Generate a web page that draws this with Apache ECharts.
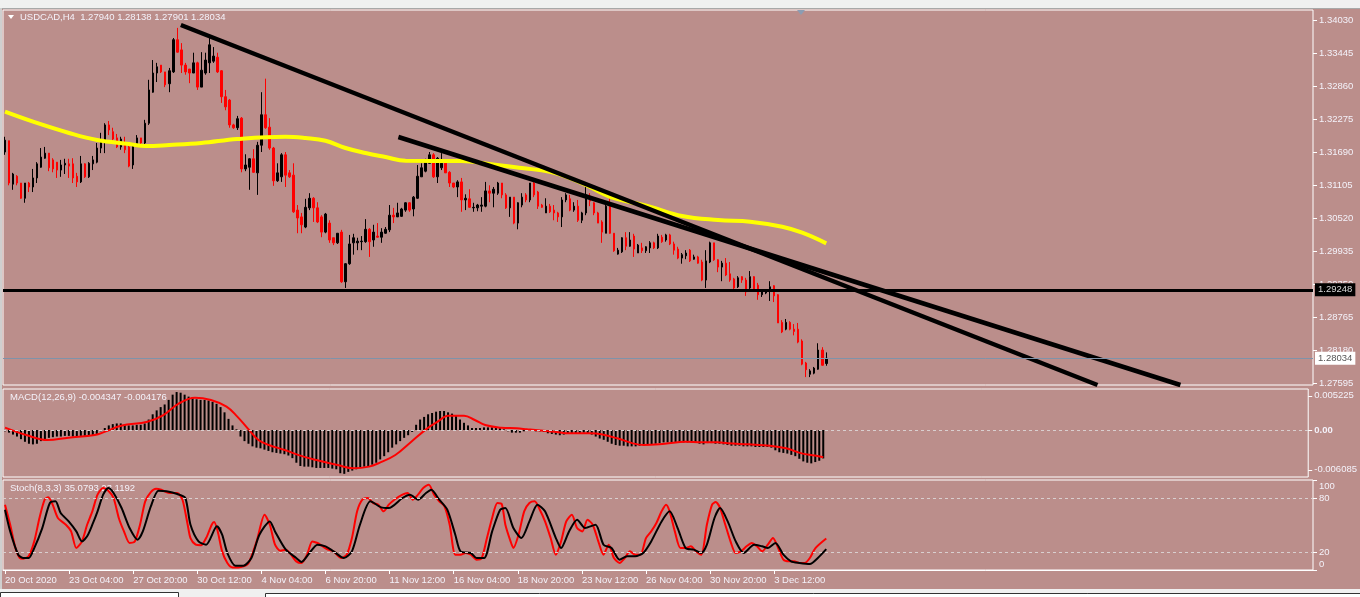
<!DOCTYPE html>
<html><head><meta charset="utf-8">
<script src="https://cdn.jsdelivr.net/npm/echarts@6/dist/echarts.min.js"></script>
<style>html,body{margin:0;padding:0;background:#bb8e8b;}#c{width:1360px;height:597px;}</style>
</head><body><div id="c"></div>
<script>
// ---------------- DATA ----------------
const symbolName = 'USDCAD,H4';
const lastOHLC = [1.27940, 1.28138, 1.27901, 1.28034];
const timeLabels = ['20 Oct 2020','23 Oct 04:00','27 Oct 20:00','30 Oct 12:00','4 Nov 04:00','6 Nov 20:00','11 Nov 12:00','16 Nov 04:00','18 Nov 20:00','23 Nov 12:00','26 Nov 04:00','30 Nov 20:00','3 Dec 12:00'];
const barsPerLabel = 16;
const slotCount = 327;
// candles: [open, close, low, high]
const candleOCLH = [
[1.3169,1.3190,1.3164,1.3196],[1.3189,1.3114,1.3110,1.3189],[1.3112,1.3130,1.3102,1.3132],[1.3126,1.3114,1.3110,1.3128],
[1.3114,1.3087,1.3086,1.3114],[1.3087,1.3114,1.3079,1.3114],[1.3114,1.3107,1.3098,1.3116],[1.3107,1.3123,1.3098,1.3139],
[1.3123,1.3148,1.3114,1.3151],[1.3142,1.3160,1.3141,1.3176],[1.3158,1.3167,1.3157,1.3178],[1.3167,1.3141,1.3135,1.3167],
[1.3155,1.3139,1.3133,1.3158],[1.3151,1.3137,1.3123,1.3151],[1.3137,1.3146,1.3125,1.3155],[1.3146,1.3149,1.3130,1.3157],
[1.3148,1.3144,1.3123,1.3157],[1.3148,1.3123,1.3114,1.3158],[1.3126,1.3116,1.3107,1.3132],[1.3116,1.3148,1.3114,1.3162],
[1.3148,1.3125,1.3123,1.3149],[1.3125,1.3149,1.3123,1.3151],[1.3148,1.3155,1.3137,1.3162],[1.3151,1.3176,1.3149,1.3185],
[1.3176,1.3189,1.3167,1.3203],[1.3187,1.3217,1.3167,1.3220],[1.3217,1.3208,1.3199,1.3224],[1.3205,1.3192,1.3187,1.3212],
[1.3194,1.3178,1.3176,1.3201],[1.3178,1.3192,1.3173,1.3196],[1.3185,1.3173,1.3167,1.3196],[1.3178,1.3144,1.3142,1.3185],
[1.3146,1.3183,1.3139,1.3185],[1.3181,1.3194,1.3178,1.3199],[1.3194,1.3185,1.3181,1.3194],[1.3185,1.3220,1.3178,1.3226],
[1.3220,1.3279,1.3217,1.3297],[1.3275,1.3309,1.3274,1.3332],[1.3309,1.3320,1.3293,1.3327],[1.3323,1.3311,1.3309,1.3323],
[1.3311,1.3288,1.3284,1.3311],[1.3290,1.3313,1.3275,1.3318],[1.3311,1.3368,1.3309,1.3371],[1.3368,1.3346,1.3345,1.3389],
[1.3350,1.3323,1.3309,1.3362],[1.3323,1.3311,1.3306,1.3327],[1.3316,1.3309,1.3291,1.3316],[1.3309,1.3327,1.3309,1.3345],
[1.3327,1.3284,1.3279,1.3329],[1.3284,1.3314,1.3284,1.3346],[1.3309,1.3332,1.3306,1.3345],[1.3327,1.3359,1.3309,1.3371],
[1.3330,1.3339,1.3327,1.3355],[1.3337,1.3311,1.3309,1.3345],[1.3313,1.3267,1.3256,1.3314],[1.3267,1.3249,1.3243,1.3279],
[1.3261,1.3217,1.3212,1.3263],[1.3217,1.3212,1.3210,1.3219],[1.3212,1.3228,1.3208,1.3233],[1.3229,1.3139,1.3133,1.3231],
[1.3139,1.3146,1.3135,1.3165],[1.3142,1.3157,1.3102,1.3158],[1.3157,1.3133,1.3132,1.3174],[1.3132,1.3181,1.3093,1.3187],
[1.3181,1.3235,1.3169,1.3275],[1.3235,1.3212,1.3210,1.3299],[1.3213,1.3176,1.3173,1.3229],[1.3176,1.3118,1.3109,1.3178],
[1.3118,1.3132,1.3116,1.3149],[1.3125,1.3164,1.3116,1.3167],[1.3164,1.3128,1.3107,1.3169],[1.3132,1.3125,1.3123,1.3137],
[1.3128,1.3063,1.3061,1.3149],[1.3066,1.3052,1.3025,1.3075],[1.3054,1.3040,1.3025,1.3061],[1.3036,1.3071,1.3034,1.3086],
[1.3070,1.3087,1.3066,1.3096],[1.3087,1.3070,1.3045,1.3089],[1.3070,1.3045,1.3043,1.3080],[1.3054,1.3027,1.3018,1.3057],
[1.3027,1.3059,1.3025,1.3061],[1.3043,1.3013,1.3008,1.3048],[1.3017,1.3008,1.3004,1.3017],[1.3008,1.3025,1.3006,1.3025],
[1.3027,1.2939,1.2937,1.3031],[1.2939,1.2971,1.2928,1.2972],[1.2971,1.3006,1.2969,1.3022],[1.3008,1.3017,1.2987,1.3024],
[1.3008,1.3011,1.2995,1.3017],[1.3010,1.3011,1.2995,1.3020],[1.3010,1.3032,1.3008,1.3050],[1.3032,1.3010,1.2983,1.3034],
[1.3013,1.3027,1.3001,1.3040],[1.3020,1.3018,1.3017,1.3043],[1.3018,1.3027,1.3008,1.3034],[1.3025,1.3032,1.3024,1.3036],
[1.3031,1.3057,1.3027,1.3075],[1.3057,1.3054,1.3043,1.3070],[1.3054,1.3061,1.3054,1.3079],[1.3055,1.3068,1.3054,1.3070],
[1.3066,1.3079,1.3063,1.3080],[1.3079,1.3066,1.3063,1.3080],[1.3068,1.3089,1.3055,1.3091],[1.3087,1.3126,1.3086,1.3146],
[1.3125,1.3141,1.3125,1.3149],[1.3135,1.3155,1.3133,1.3157],[1.3149,1.3164,1.3149,1.3169],[1.3164,1.3125,1.3123,1.3167],
[1.3125,1.3158,1.3114,1.3160],[1.3141,1.3149,1.3137,1.3167],[1.3149,1.3132,1.3132,1.3149],[1.3133,1.3114,1.3107,1.3135],
[1.3114,1.3107,1.3105,1.3114],[1.3107,1.3116,1.3089,1.3119],[1.3116,1.3084,1.3063,1.3123],[1.3084,1.3087,1.3066,1.3094],
[1.3086,1.3071,1.3070,1.3103],[1.3070,1.3071,1.3063,1.3079],[1.3070,1.3075,1.3064,1.3077],[1.3073,1.3075,1.3063,1.3089],
[1.3073,1.3100,1.3071,1.3116],[1.3100,1.3096,1.3080,1.3110],[1.3096,1.3103,1.3071,1.3107],[1.3096,1.3114,1.3093,1.3116],
[1.3114,1.3093,1.3087,1.3114],[1.3093,1.3070,1.3068,1.3096],[1.3070,1.3089,1.3054,1.3089],[1.3089,1.3043,1.3041,1.3089],
[1.3043,1.3079,1.3032,1.3080],[1.3075,1.3089,1.3071,1.3096],[1.3093,1.3084,1.3080,1.3096],[1.3084,1.3114,1.3080,1.3114],
[1.3114,1.3093,1.3089,1.3123],[1.3098,1.3073,1.3068,1.3100],[1.3075,1.3071,1.3070,1.3077],[1.3061,1.3073,1.3061,1.3087],
[1.3073,1.3063,1.3061,1.3077],[1.3066,1.3061,1.3048,1.3075],[1.3061,1.3054,1.3045,1.3063],[1.3054,1.3084,1.3036,1.3089],
[1.3084,1.3093,1.3080,1.3096],[1.3086,1.3066,1.3064,1.3093],[1.3066,1.3073,1.3063,1.3080],[1.3073,1.3048,1.3045,1.3084],
[1.3048,1.3061,1.3043,1.3063],[1.3061,1.3093,1.3057,1.3114],[1.3091,1.3082,1.3073,1.3096],[1.3079,1.3061,1.3057,1.3080],
[1.3061,1.3043,1.3043,1.3063],[1.3045,1.3027,1.3008,1.3048],[1.3025,1.3073,1.3025,1.3075],[1.3073,1.3025,1.3024,1.3089],
[1.3025,1.2994,1.2992,1.3025],[1.2988,1.2995,1.2987,1.2999],[1.2992,1.3017,1.2990,1.3018],[1.3017,1.3002,1.2995,1.3027],
[1.3002,1.3013,1.3001,1.3027],[1.3020,1.2997,1.2983,1.3024],[1.2990,1.3004,1.2990,1.3006],[1.2999,1.2994,1.2990,1.3008],
[1.2994,1.3001,1.2990,1.3002],[1.2999,1.3008,1.2990,1.3011],[1.3008,1.2999,1.2997,1.3010],[1.2999,1.3020,1.2997,1.3024],
[1.3018,1.3010,1.3008,1.3022],[1.3013,1.3022,1.3010,1.3024],[1.3022,1.3006,1.3004,1.3024],[1.3006,1.2995,1.2987,1.3010],
[1.2997,1.2981,1.2979,1.3001],[1.2981,1.2987,1.2971,1.2990],[1.2985,1.2990,1.2979,1.2995],[1.2995,1.2976,1.2974,1.2997],
[1.2979,1.2983,1.2978,1.2987],[1.2983,1.2972,1.2971,1.2985],[1.2974,1.2942,1.2940,1.2978],[1.2942,1.2976,1.2928,1.2995],
[1.2974,1.3008,1.2972,1.3010],[1.3008,1.2978,1.2976,1.3008],[1.2978,1.2965,1.2956,1.2979],[1.2965,1.2972,1.2940,1.2976],
[1.2972,1.2951,1.2949,1.2981],[1.2953,1.2942,1.2939,1.2974],[1.2944,1.2928,1.2926,1.2946],[1.2930,1.2946,1.2928,1.2949],
[1.2948,1.2942,1.2937,1.2949],[1.2942,1.2921,1.2914,1.2946],[1.2928,1.2948,1.2924,1.2958],[1.2948,1.2924,1.2921,1.2949],
[1.2933,1.2916,1.2907,1.2937],[1.2916,1.2921,1.2912,1.2923],[1.2919,1.2921,1.2917,1.2926],[1.2923,1.2930,1.2905,1.2940],
[1.2932,1.2914,1.2903,1.2933],[1.2916,1.2866,1.2866,1.2917],[1.2867,1.2850,1.2848,1.2871],[1.2855,1.2867,1.2853,1.2873],
[1.2867,1.2855,1.2853,1.2869],[1.2855,1.2851,1.2844,1.2864],[1.2855,1.2832,1.2830,1.2866],[1.2834,1.2793,1.2791,1.2837],
[1.2795,1.2783,1.2770,1.2797],[1.2775,1.2781,1.2770,1.2784],[1.2777,1.2786,1.2775,1.2788],[1.2784,1.2818,1.2783,1.2830],
[1.2818,1.2791,1.2790,1.2823],[1.27940,1.28034,1.27901,1.28138]
];
// 200 period moving average, read as [bar, price]
const maLine = [[0,1.32404],[7,1.32227],[16,1.32027],[23,1.31902],[31,1.31831],[35,1.31796],[41,1.31814],[49,1.31849],[58,1.3192],[70,1.31961],[75,1.31938],[80,1.3189],[85,1.31761],[90,1.31672],[95,1.31601],[100,1.31535],[114,1.3153],[121,1.31477],[129,1.31406],[136,1.3134],[141,1.31229],[146,1.31069],[151,1.30897],[161,1.3072],[169,1.30555],[178,1.30484],[186,1.30454],[194,1.30365],[199,1.30259],[205,1.30071]];
const trendA = [[43.9,1.33941],[272.7,1.27560]];
const trendB = [[98.2,1.31956],[293.4,1.27560]];
const levelLine = 1.29248;
const bidLine = 1.28034;
const priceTicks = [1.34030,1.33445,1.32860,1.32275,1.31690,1.31105,1.30520,1.29935,1.29350,1.28765,1.28180,1.27595];
const priceRange = [1.27560, 1.34207];

const macdHist = [
-0.0002,-0.0004,-0.0007,-0.0010,-0.0014,-0.0018,-0.0021,-0.0022,-0.0021,-0.0017,-0.0014,-0.0012,-0.0011,-0.0010,-0.0010,-0.0009,
-0.0009,-0.0010,-0.0010,-0.0009,-0.0009,-0.0008,-0.0008,-0.0006,-0.0002,0.0003,0.0007,0.0009,0.0010,0.0010,0.0009,0.0007,
0.0007,0.0008,0.0008,0.0010,0.0016,0.0024,0.0030,0.0035,0.0039,0.0046,0.0054,0.0058,0.0057,0.0054,0.0051,0.0050,
0.0047,0.0046,0.0046,0.0045,0.0043,0.0040,0.0035,0.0027,0.0017,0.0007,0.0001,-0.0010,-0.0017,-0.0021,-0.0025,-0.0027,
-0.0028,-0.0030,-0.0032,-0.0034,-0.0035,-0.0036,-0.0037,-0.0039,-0.0043,-0.0050,-0.0055,-0.0056,-0.0056,-0.0057,-0.0058,-0.0058,
-0.0058,-0.0058,-0.0059,-0.0060,-0.0066,-0.0067,-0.0064,-0.0062,-0.0060,-0.0058,-0.0056,-0.0055,-0.0053,-0.0050,-0.0045,-0.0040,
-0.0034,-0.0027,-0.0022,-0.0017,-0.0012,-0.0008,-0.0003,0.0008,0.0016,0.0020,0.0024,0.0026,0.0028,0.0029,0.0029,0.0027,
0.0025,0.0022,0.0016,0.0011,0.0007,0.0003,0.0003,0.0003,0.0004,0.0004,0.0004,0.0004,0.0003,0.0001,-0.0002,-0.0004,
-0.0004,-0.0004,-0.0002,0.0000,-0.0001,-0.0002,-0.0002,-0.0003,-0.0005,-0.0006,-0.0007,-0.0008,-0.0007,-0.0006,-0.0006,-0.0006,
-0.0005,-0.0004,-0.0005,-0.0007,-0.0010,-0.0013,-0.0015,-0.0018,-0.0021,-0.0023,-0.0024,-0.0024,-0.0025,-0.0025,-0.0025,-0.0024,
-0.0023,-0.0023,-0.0022,-0.0021,-0.0020,-0.0019,-0.0019,-0.0019,-0.0019,-0.0019,-0.0019,-0.0019,-0.0019,-0.0019,-0.0021,-0.0022,
-0.0020,-0.0020,-0.0021,-0.0021,-0.0022,-0.0023,-0.0024,-0.0024,-0.0024,-0.0025,-0.0025,-0.0025,-0.0026,-0.0026,-0.0026,-0.0026,
-0.0027,-0.0031,-0.0034,-0.0035,-0.0036,-0.0038,-0.0040,-0.0044,-0.0048,-0.0050,-0.0051,-0.0049,-0.0047,-0.004347
];
const macdSignal = [[0,0.00036],[5.3,-0.00076],[10.6,-0.00153],[15.9,-0.00117],[22.5,-0.00076],[25.1,-0.00025],[29.1,0.00066],[35.7,0.00127],[39.7,0.00229],[43.6,0.00407],[47.6,0.00494],[51.6,0.00458],[55.5,0.00357],[58.2,0.00204],[60.8,0.00025],[63.5,-0.00153],[66.1,-0.00229],[70.1,-0.00306],[74,-0.00392],[78,-0.00458],[83.3,-0.00535],[87.3,-0.00586],[91.2,-0.0056],[93.9,-0.00499],[97.8,-0.00382],[101.8,-0.00178],[105.8,0.00025],[108.4,0.00127],[111,0.00219],[115,0.00219],[117.7,0.00153],[120.3,0.00076],[124.3,0.00036],[128.2,0.00025],[130.9,0.0001],[137.5,-0.00025],[141.5,-0.00051],[146.7,-0.00051],[149.4,-0.00066],[153.4,-0.00127],[157.3,-0.00204],[160,-0.00229],[165.3,-0.00209],[170.5,-0.00178],[174.5,-0.00188],[178.5,-0.00188],[181.1,-0.00204],[186.4,-0.00219],[191.7,-0.0024],[195.7,-0.0028],[199.6,-0.00357],[202.9,-0.0039],[205,-0.004176]];
const macdTicks = [0.005225, 0, -0.006085];
const macdRange = [-0.007182, 0.006265];

const stochMain = [[0,72.6],[1.3,50.3],[2.6,24.4],[3.7,13.3],[4.6,12.6],[5.9,15.2],[7.3,31.8],[8.6,57.8],[9.9,78.1],[10.8,80.7],[11.9,72.6],[13.2,57.8],[15.2,50.3],[16.5,42.9],[17.8,24.4],[19.2,31.8],[20.5,50.3],[21.8,65.2],[23.1,83.7],[24.5,91.1],[25.8,88.1],[27.1,80],[28.4,57.8],[29.7,42.9],[31.1,30],[32.4,31.8],[33.7,50.3],[35,76.3],[36.4,86.6],[37.7,90.3],[39,89.2],[41,85.5],[43,85.5],[44.3,78.1],[45.6,50.3],[46.3,35.5],[47.6,28.1],[48.9,27.4],[50.2,35.5],[51.6,50.3],[52.2,53.3],[53.1,42.9],[54.2,20.7],[55.5,7.8],[56.8,2.9],[58.2,2.9],[59.5,4],[60.8,7.8],[62.8,31.8],[64.8,61.5],[66.1,50.3],[67.4,28.1],[68.7,21.5],[70.1,22.6],[71.4,17],[72.7,9.6],[74,7.8],[75.4,17],[76.7,31.8],[78,30],[79.3,26.3],[80.6,22.6],[82,20.7],[83.9,13.3],[85.3,17],[86.6,35.5],[87.9,65.2],[89.2,78.1],[90.6,80],[91.9,74.4],[93.2,72.6],[94.5,65.2],[95.8,72.6],[97.2,78.1],[99.2,83.7],[100.5,85.5],[101.8,78.1],[103.1,83.7],[104.4,91.1],[105.8,94.8],[107.1,83.7],[108.4,76.3],[109.7,70.7],[111,50.3],[112.4,17],[113.7,17],[115,18.9],[116.3,17],[117.7,11.5],[119,13.3],[120.3,35.5],[121.6,57.8],[122.9,74.4],[124,73.3],[124.9,50.3],[126.2,31.8],[126.9,24.4],[128.2,39.2],[129.6,65.2],[130.9,74.4],[132.2,76.3],[133.5,67],[134.8,54],[136.2,35.5],[137.5,17],[138.8,31.8],[140.1,54],[141.5,61.5],[142.8,46.6],[144.1,42.9],[145.4,55.9],[146.7,50.3],[148.1,31.8],[149.4,17],[150.7,28.1],[152,13.3],[153.4,7.8],[154.7,13.3],[156,20.7],[157.3,17],[158.6,17],[160,35.5],[161.3,42.9],[162.6,52.2],[163.9,65.2],[165,72.6],[165.9,65.2],[167.2,42.9],[168.6,24.4],[169.9,24.4],[171.2,26.3],[172.5,20.7],[173.8,17],[175.2,50.3],[176.5,72.6],[177.4,75.5],[178.5,68.9],[179.8,50.3],[181.1,31.8],[182.4,18.9],[183.7,20.7],[185.1,26.3],[186.4,30],[187.7,26.3],[189,20.7],[190.4,28.1],[191.7,35.5],[193,24.4],[194.3,11.5],[195.7,9.6],[197,9.6],[198.3,7.8],[199.6,7.8],[200.9,13.3],[202.3,24.4],[205,35.0793]];
const stochSignal = [[0,67],[1.3,42.9],[3.3,17],[4.6,13.3],[5.9,13.3],[7.3,24.4],[9.3,46.6],[11.2,74.4],[12.6,76.3],[13.9,63.3],[15.9,54],[17.8,42.9],[19.2,31.8],[20.5,37.4],[21.8,50.3],[23.1,65.2],[24.5,83.7],[25.8,91.1],[27.1,85.5],[29.1,68.9],[31.1,46.6],[33.1,33.7],[34.4,42.9],[36.4,70.7],[38.3,88.1],[40.3,87.4],[43,84.4],[45,80],[46.3,50.3],[48.3,31.8],[50.2,28.1],[52.9,48.5],[54.2,39.2],[55.5,18.9],[57.5,4.8],[59.5,4.8],[61.5,13.3],[63.5,39.2],[66.1,54],[67.4,42.9],[70.1,22.6],[72.7,13.3],[74,8.9],[76,18.9],[78,28.1],[80,26.3],[82,20.7],[84.6,13.3],[86.6,20.7],[88.6,50.3],[91.2,76.3],[93.9,69.6],[95.8,68.9],[99.2,80],[101.1,83.7],[103.1,78.1],[105.1,85.5],[106.4,89.2],[108.4,78.1],[110.4,67],[112.4,39.2],[113.7,20.7],[116.3,18.9],[117.7,13.3],[119.6,13.3],[121.6,42.9],[123.6,67],[124.9,68.9],[126.9,46.6],[128.9,35.5],[130.9,54],[132.9,72.6],[134.8,65.2],[137.5,35.5],[138.8,24.4],[140.8,42.9],[142.8,55.9],[144.8,46.6],[147.4,50.3],[149.4,28.1],[151.4,24.4],[153.4,11.5],[155.3,15.2],[157.3,15.2],[159.3,18.9],[161.3,31.8],[163.9,54],[165.9,65.2],[167.9,46.6],[169.9,24.4],[171.9,22.6],[173.8,18.9],[175.2,28.1],[177.1,57.8],[178.5,68.9],[180.4,54],[182.4,31.8],[184.4,18.9],[187,28.1],[189,26.3],[190.4,24.4],[192.3,30],[194.3,17],[196.2,9.6],[198.3,7.8],[200.9,6.6],[202.9,13.3],[205,23.1192]];
const stochTicks = [100, 80, 20, 0];
const stochLevels = [80, 20];

// ---------------- CHART ----------------
const FONT = "'Liberation Sans', Arial, sans-serif";
const FS = 9.5;
const TXT = '#f4f2fa';
const cats = Array.from({length: slotCount}, (_, i) => 'b' + i);
const isLabelSlot = (i) => i % barsPerLabel === 0 && (i / barsPerLabel) < timeLabels.length;
const chart = echarts.init(document.getElementById('c'), null, {renderer: 'canvas'});
const gridBase = {left: 3, right: 47, show: true, borderColor: '#ffffff', borderWidth: 1, backgroundColor: 'transparent'};
const lbl = {color: TXT, fontFamily: FONT, fontSize: FS};
const lastMacd = macdHist[macdHist.length - 1];
const lastSig = macdSignal[macdSignal.length - 1][1];
const lastK = stochMain[stochMain.length - 1][1];
const lastD = stochSignal[stochSignal.length - 1][1];
const yLine = {show: false, onZero: false};
const yTick = (vals) => ({show: true, customValues: vals, length: 4, inside: false, lineStyle: {color: '#ffffff'}});

const option = {
  animation: false,
  backgroundColor: '#bb8e8b',
  grid: [
    Object.assign({top: 10, height: 375}, gridBase),
    Object.assign({top: 389, height: 88}, gridBase),
    Object.assign({top: 480, height: 90}, gridBase)
  ],
  xAxis: [
    {type: 'category', gridIndex: 0, data: cats, show: false},
    {type: 'category', gridIndex: 1, data: cats, show: false},
    {type: 'category', gridIndex: 2, data: cats,
      axisLine: {show: true, onZero: false, lineStyle: {color: '#ffffff'}},
      axisTick: {show: true, alignWithLabel: true, interval: (i) => isLabelSlot(i), length: 4, lineStyle: {color: '#ffffff'}},
      axisLabel: Object.assign({interval: (i) => isLabelSlot(i), formatter: (v, i) => isLabelSlot(i) ? timeLabels[i / barsPerLabel] : '', align: 'left', margin: 5}, lbl),
      splitLine: {show: false}},
    {type: 'value', gridIndex: 0, min: -0.5, max: slotCount - 0.5, show: false},
    {type: 'value', gridIndex: 1, min: -0.5, max: slotCount - 0.5, show: false},
    {type: 'value', gridIndex: 2, min: -0.5, max: slotCount - 0.5, show: false}
  ],
  yAxis: [
    {type: 'value', gridIndex: 0, position: 'right', min: priceRange[0], max: priceRange[1],
      splitLine: {show: false}, axisLine: yLine, axisTick: yTick(priceTicks),
      axisLabel: Object.assign({customValues: priceTicks, formatter: (v) => v.toFixed(5), margin: 6}, lbl)},
    {type: 'value', gridIndex: 1, position: 'right', min: macdRange[0], max: macdRange[1],
      splitLine: {show: false}, axisLine: yLine, axisTick: yTick(macdTicks),
      axisLabel: Object.assign({customValues: macdTicks, formatter: (v) => Math.abs(v) < 1e-12 ? '{z|0.00}' : v.toFixed(6), margin: 6,
        rich: {z: {color: TXT, fontFamily: FONT, fontSize: FS, fontWeight: 'bold'}}}, lbl)},
    {type: 'value', gridIndex: 2, position: 'right', min: 0, max: 100,
      splitLine: {show: false}, axisLine: yLine, axisTick: yTick(stochTicks),
      axisLabel: Object.assign({customValues: stochTicks, margin: 6,
        formatter: (v) => v === 100 ? '{a|100}' : (v === 0 ? '{b|0}' : '{c|' + v + '}'),
        rich: {
          a: {color: TXT, fontFamily: FONT, fontSize: FS, padding: [12, 0, 0, 0]},
          b: {color: TXT, fontFamily: FONT, fontSize: FS, padding: [0, 0, 12, 0]},
          c: {color: TXT, fontFamily: FONT, fontSize: FS}
        }}, lbl)}
  ],
  series: [
    {type: 'candlestick', name: 'price', xAxisIndex: 0, yAxisIndex: 0, data: candleOCLH, barWidth: 2,
      itemStyle: {color: '#000000', color0: '#ff0000', borderColor: '#000000', borderColor0: '#ff0000', borderColorDoji: '#000000', borderWidth: 1},
      markLine: {silent: true, symbol: ['none', 'none'], precision: 5, animation: false,
        data: [
          {yAxis: levelLine, lineStyle: {color: '#000000', width: 3, type: 'solid'},
            label: {show: true, position: 'end', distance: 2, formatter: () => levelLine.toFixed(5), backgroundColor: '#000000', color: '#d8d8d8', padding: [2, 3, 1, 3], fontFamily: FONT, fontSize: FS}},
          {yAxis: bidLine, lineStyle: {color: '#7f93aa', width: 1, type: 'solid'},
            label: {show: true, position: 'end', distance: 2, formatter: () => bidLine.toFixed(5), backgroundColor: '#ffffff', color: '#555555', padding: [2, 3, 1, 3], fontFamily: FONT, fontSize: FS}}
        ]}},
    {type: 'line', name: 'MA', xAxisIndex: 3, yAxisIndex: 0, data: maLine, smooth: 0.4, symbol: 'none', lineStyle: {color: '#ffff00', width: 4}},
    {type: 'line', name: 'trendA', xAxisIndex: 3, yAxisIndex: 0, data: trendA, symbol: 'none', lineStyle: {color: '#000000', width: 4.5}},
    {type: 'line', name: 'trendB', xAxisIndex: 3, yAxisIndex: 0, data: trendB, symbol: 'none', lineStyle: {color: '#000000', width: 4.5}},
    {type: 'bar', name: 'macd', xAxisIndex: 1, yAxisIndex: 1, data: macdHist, barWidth: 2, itemStyle: {color: '#000000'},
      markLine: {silent: true, symbol: ['none', 'none'], precision: 6, label: {show: false}, data: [{yAxis: 0}], lineStyle: {color: '#d9cfcf', type: [3, 3], width: 1}}},
    {type: 'line', name: 'signal', xAxisIndex: 4, yAxisIndex: 1, data: macdSignal, smooth: 0.4, symbol: 'none', lineStyle: {color: '#ff0000', width: 2}},
    {type: 'line', name: 'stochK', xAxisIndex: 5, yAxisIndex: 2, data: stochMain, smooth: 0.25, symbol: 'none', lineStyle: {color: '#ff0000', width: 2},
      markLine: {silent: true, symbol: ['none', 'none'], label: {show: false}, data: stochLevels.map(v => ({yAxis: v})), lineStyle: {color: '#d9cfcf', type: [3, 3], width: 1}}},
    {type: 'line', name: 'stochD', xAxisIndex: 5, yAxisIndex: 2, data: stochSignal, smooth: 0.25, symbol: 'none', lineStyle: {color: '#000000', width: 2}}
  ],
  graphic: [
    {type: 'rect', shape: {x: 0, y: 0, width: 1360, height: 8}, style: {fill: '#f0f0f0'}, silent: true},
    {type: 'line', shape: {x1: 0, y1: 8.5, x2: 1360, y2: 8.5}, style: {stroke: '#a8a8a8', lineWidth: 1}, silent: true},
    {type: 'rect', shape: {x: 0, y: 8, width: 2, height: 582}, style: {fill: '#cfcfcf'}, silent: true},
    {type: 'rect', shape: {x: 0, y: 589, width: 1360, height: 8}, style: {fill: '#f0f0f0'}, silent: true},
    {type: 'rect', shape: {x: 0.5, y: 592.5, width: 178, height: 6}, style: {fill: '#ffffff', stroke: '#333333', lineWidth: 1}, silent: true},
    {type: 'rect', shape: {x: 265.5, y: 593.5, width: 1100, height: 6}, style: {fill: '#ffffff', stroke: '#333333', lineWidth: 1}, silent: true},
    {type: 'polygon', shape: {points: [[797, 10], [805, 10], [801, 15]]}, style: {fill: '#8b9db3'}, silent: true},
    {type: 'polygon', shape: {points: [[8, 15], [14, 15], [11, 19]]}, style: {fill: '#ffffff'}, silent: true},
    {type: 'text', x: 20, y: 17, style: {text: symbolName + '  ' + lastOHLC.map(v => v.toFixed(5)).join(' '), fill: TXT, font: FS + 'px ' + FONT, verticalAlign: 'middle'}, silent: true},
    {type: 'text', x: 10, y: 397, style: {text: 'MACD(12,26,9) ' + lastMacd.toFixed(6) + ' ' + lastSig.toFixed(6), fill: TXT, font: FS + 'px ' + FONT, verticalAlign: 'middle'}, silent: true},
    {type: 'text', x: 10, y: 488, style: {text: 'Stoch(8,3,3) ' + lastK.toFixed(4) + ' ' + lastD.toFixed(4), fill: TXT, font: FS + 'px ' + FONT, verticalAlign: 'middle'}, silent: true}
  ]
};
chart.setOption(option);
</script>
</body></html>
